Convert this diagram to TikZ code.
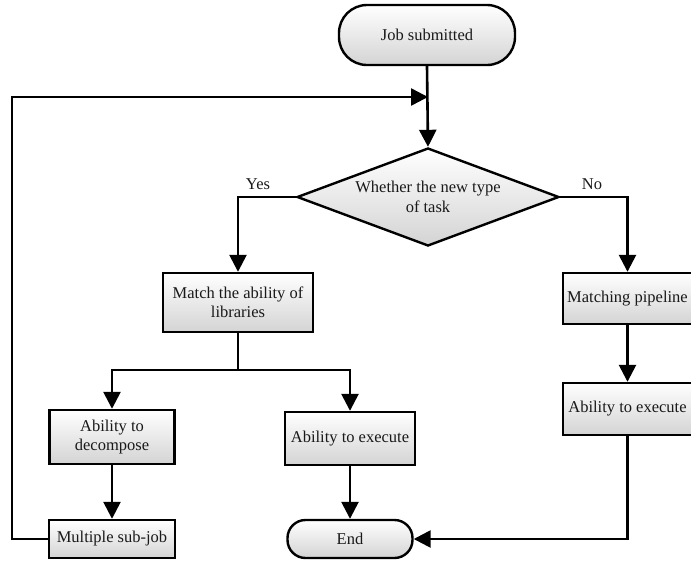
\documentclass[tikz,border=0pt]{standalone}
\usepackage{fontspec}
\setmainfont{Liberation Serif}
\usetikzlibrary{arrows.meta,shapes.geometric}
\begin{document}
\begin{tikzpicture}[x=1pt,y=-1pt,
  txt/.style={font=\fontsize{16.5}{19.5}\selectfont, text=black!90},
  gfill/.style={top color=white, bottom color=black!17},
  procbox/.style={txt, gfill, draw, line width=2.4pt, rectangle, inner sep=0pt, align=center},
  termbox/.style={procbox, rounded corners=#1},
  decbox/.style={txt, gfill, draw, line width=2.4pt, diamond, aspect=2.67, inner sep=0pt, align=center, minimum width=262pt, minimum height=98pt},
  conn/.style={line width=2.6pt},
  arr/.style={conn, -{Triangle[length=17pt,width=17pt]}},
  lbl/.style={txt}
]
\useasboundingbox (0,0) rectangle (691,560);

\node[termbox=28pt, minimum width=176pt, minimum height=60pt] (start) at (427,35) {Job submitted};
\node[decbox] (dec) at (428,197) {Whether the new type\\of task};
\node[procbox, minimum width=150pt, minimum height=59pt] (match) at (238,302.5) {Match the ability of\\libraries};
\node[procbox, minimum width=129pt, minimum height=51pt] (pipe) at (627.5,298.5) {Matching pipeline};
\node[procbox, minimum width=129pt, minimum height=52pt] (rexec) at (627.5,409) {Ability to execute};
\node[procbox, minimum width=125pt, minimum height=54pt] (decomp) at (112,437) {Ability to\\decompose};
\node[procbox, minimum width=126pt, minimum height=38pt] (multi) at (112,539) {Multiple sub-job};
\node[procbox, minimum width=130pt, minimum height=53pt] (mexec) at (350,438.5) {Ability to execute};
\node[termbox=18pt, minimum width=125pt, minimum height=38pt] (end) at (350,539) {End};

\node[lbl] (yes) at (258,184) {Yes};
\node[lbl] (no) at (592,184) {No};

\coordinate (lc) at (12,97);
\coordinate (jn) at (428,97);
\coordinate (br) at (238,370);

\draw[arr] (start.south) -- (dec.north);
\draw[arr] (multi.west) -| (lc) -- (jn);
\draw[arr] (dec.west) -| (match.north);
\draw[arr] (dec.east) -| (pipe.north);
\draw[arr] (pipe.south) -- (rexec.north);
\draw[conn] (match.south) -- (br);
\draw[arr] (br) -| (decomp.north);
\draw[arr] (br) -| (mexec.north);
\draw[arr] (decomp.south) -- (multi.north);
\draw[arr] (mexec.south) -- (end.north);
\draw[arr] (rexec.south) |- (end.east);
\end{tikzpicture}
\end{document}
